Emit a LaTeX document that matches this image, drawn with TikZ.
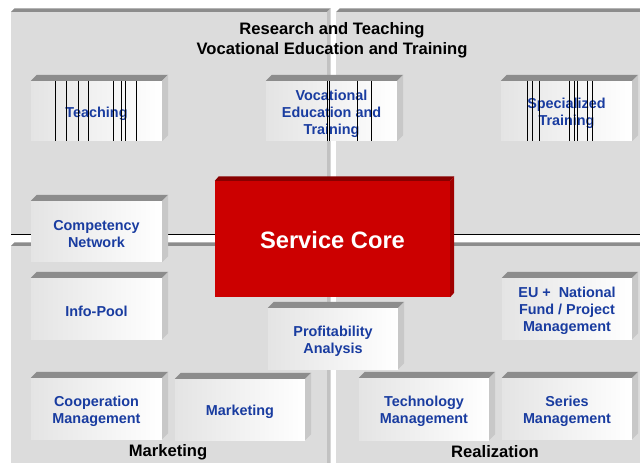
\documentclass[tikz,border=0pt]{standalone}
\usepackage{fontspec}
\setmainfont{Liberation Sans}
\definecolor{panelgray}{HTML}{DCDCDC}
\definecolor{bevdark}{HTML}{8C8C8C}
\definecolor{bevlight}{HTML}{C2C2C2}
\definecolor{facel}{HTML}{E4E4E4}
\definecolor{boxside}{HTML}{C8C8C8}
\definecolor{corered}{HTML}{CC0000}
\definecolor{coretop}{HTML}{880000}
\definecolor{coreside}{HTML}{A00000}
\definecolor{txtblue}{RGB}{25,60,160}
\newcommand{\cubebox}[6]{%
  \node[boxface, minimum width={(#4-#2)*1bp}, minimum height={(#5-#3)*1bp}]
    (#1) at ({(#2+#4)/2},{(#3+#5)/2}) {};
  \fill[bevtop] (#1.north west) -- ++(6,-6) -- ([shift={(6,-6)}]#1.north east) -- (#1.north east) -- cycle;
  \fill[bevside] (#1.north east) -- ++(6,-6) -- ([shift={(6,-6)}]#1.south east) -- (#1.south east) -- cycle;
  \node[boxtext] (#1-text) at ([yshift=-2.5bp]#1.center) {#6};
}
\newcommand{\panelbox}[4]{%
  \fill[panelgray] (#1,#2) rectangle (#3,#4);
  \fill[bevdark] (#1,#2) -- ++(3.5,-3.5) -- (#3+3.5,#2-3.5) -- (#3,#2) -- cycle;
  \fill[bevlight] (#3,#2) -- ++(3.5,-3.5) -- (#3+3.5,#4-3.5) -- (#3,#4) -- cycle;
}
\newcommand{\artlines}[3]{%
  \foreach \xx in {#3} \draw[artline] (\xx,#1) -- (\xx,#2);
}
\begin{document}
\begin{tikzpicture}[x=1bp,y=-1bp,
  boxface/.style={draw=none, inner sep=0pt, left color=facel, right color=white},
  boxtext/.style={inner sep=0pt, text=txtblue, align=center,
    font=\fontsize{14.4bp}{17bp}\selectfont\bfseries},
  bevtop/.style={fill=bevdark},
  bevside/.style={fill=boxside},
  artline/.style={black, line width=0.7bp},
  title/.style={align=center, text=black, inner sep=0pt,
    font=\fontsize{16.6bp}{20bp}\selectfont\bfseries},
  coreface/.style={fill=corered, inner sep=0pt, text=white,
    font=\fontsize{23.7bp}{28bp}\selectfont\bfseries}
]
\useasboundingbox (0,0) rectangle (640,463);
\fill[white] (0,0) rectangle (640,463);

% quadrant panels
\panelbox{11}{12}{327}{234}
\panelbox{336}{12}{644}{234}
\panelbox{11}{246}{327}{467}
\panelbox{336}{246}{644}{467}
\fill[white] (0,463) rectangle (644,470);
\draw[black, line width=0.8bp] (11,234) -- (640,234);

% titles
\node[title] (top) at (332,40) {Research and Teaching\\Vocational Education and Training};
\node[title] (mlab) at (168,452) {Marketing};
\node[title] (rlab) at (495,452) {Realization};

% service core
\node[coreface, minimum width=235bp, minimum height=116bp] (core) at (332.5,239) {};
\fill[coretop] (core.north west) -- ++(4,-4.5) -- ([shift={(4,-4.5)}]core.north east) -- (core.north east) -- cycle;
\fill[coreside] (core.north east) -- ++(4,-4.5) -- ([shift={(4,-4.5)}]core.south east) -- (core.south east) -- cycle;
\node[coreface, fill=none] (core-text) at ([yshift=-1bp]core.center) {Service Core};

% boxes
\cubebox{teach}{31}{81}{162}{141}{Teaching}
\cubebox{vet}{266}{81}{397}{141}{Vocational\\Education and\\Training}
\cubebox{spec}{501}{81}{632}{141}{Specialized\\Training}
\cubebox{comp}{31}{201}{162}{262}{Competency\\Network}
\cubebox{info}{31}{278}{162}{339}{Info-Pool}
\cubebox{coop}{31}{378}{162}{439}{Cooperation\\Management}
\cubebox{mkt}{175}{379}{305}{440}{Marketing}
\cubebox{prof}{268}{308}{398}{369}{Profitability\\Analysis}
\cubebox{eu}{502}{278}{632}{339}{EU +\ \ National\\Fund / Project\\Management}
\cubebox{tech}{359}{378}{489}{440}{Technology\\Management}
\cubebox{series}{502}{378}{632}{439}{Series\\Management}

% vertical stray lines in the top boxes
\artlines{81}{141}{55,66,78,88,113,121,125,136}
\artlines{81}{141}{327,329,357,371}
\artlines{81}{141}{527,532,539,569,574,577,587,592}
\end{tikzpicture}
\end{document}
